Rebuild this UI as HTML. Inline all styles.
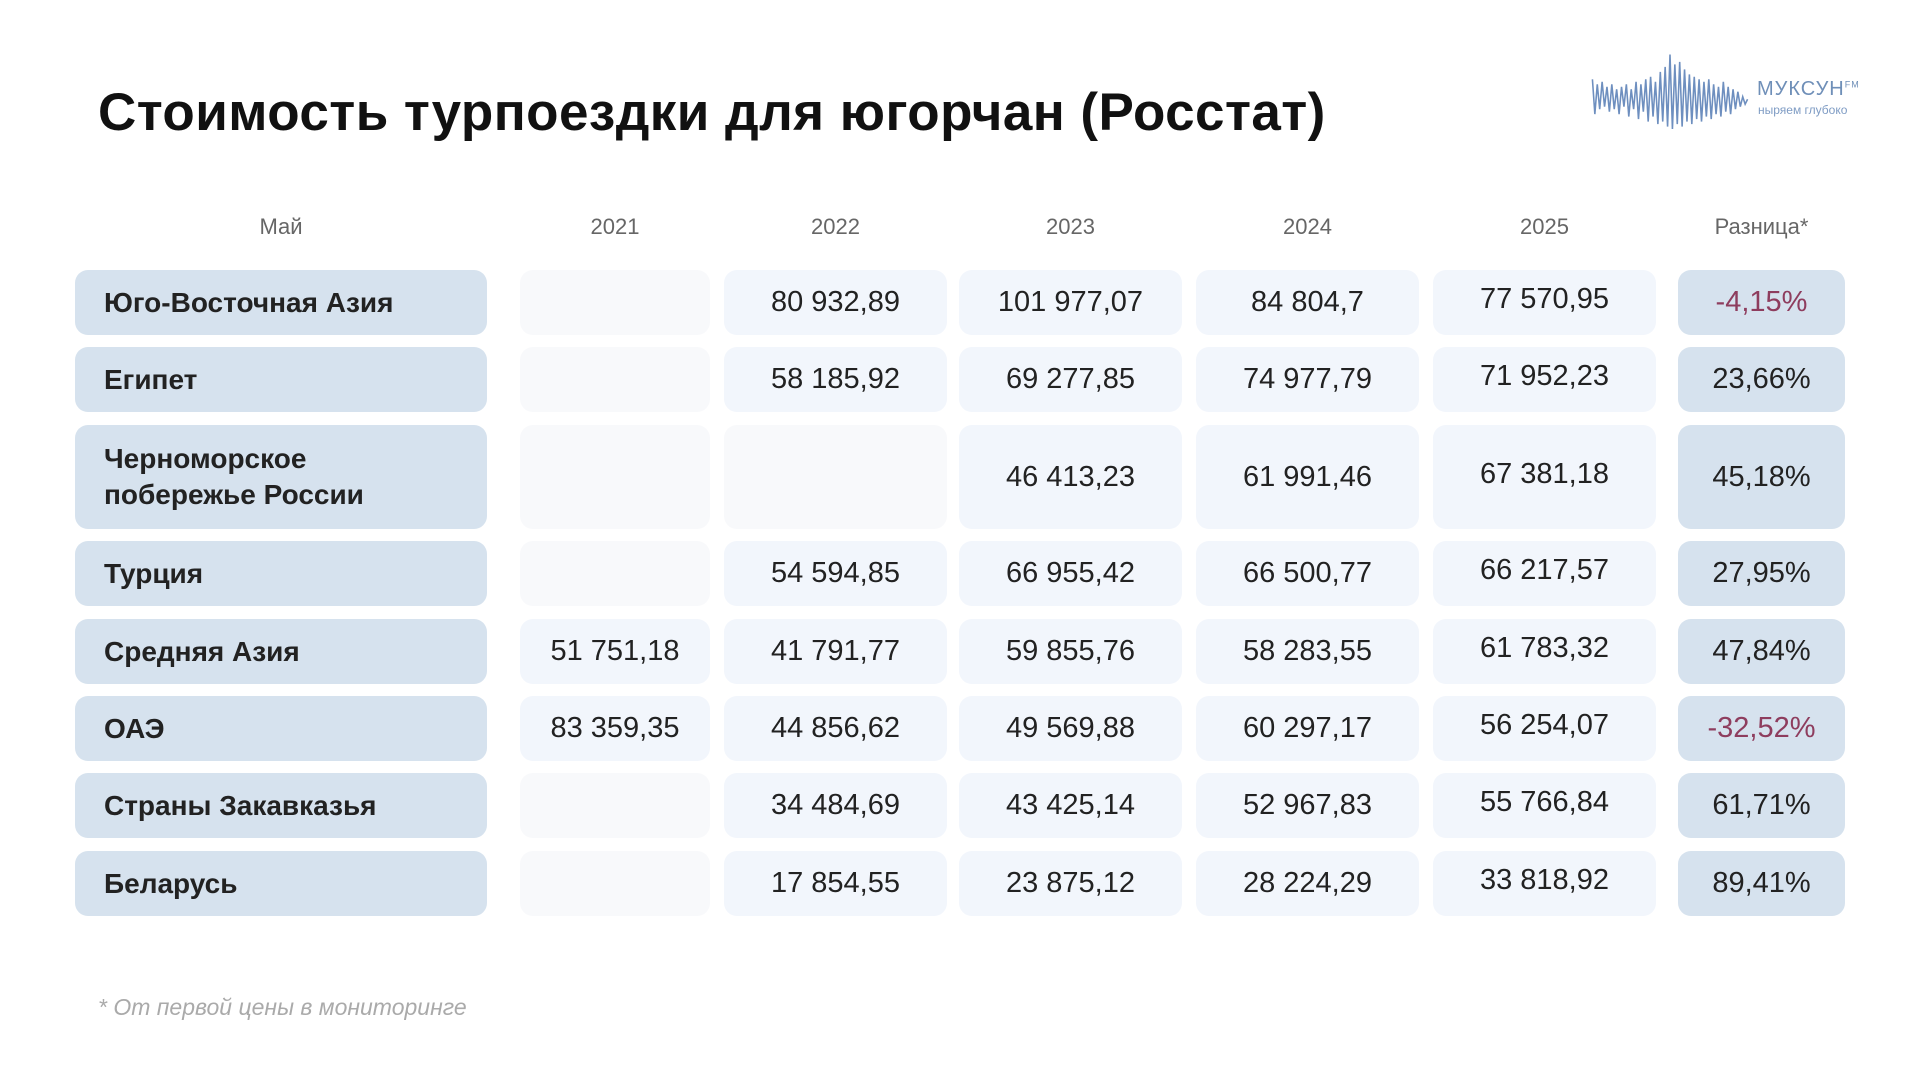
<!DOCTYPE html>
<html><head><meta charset="utf-8"><style>
body{margin:0;width:1920px;height:1080px;background:#fff;font-family:"Liberation Sans","DejaVu Sans",sans-serif;position:relative;overflow:hidden}
.t{position:absolute;left:98px;top:82px;font-size:53px;font-weight:bold;color:#111;letter-spacing:0.45px}
.h{position:absolute;top:214px;font-size:22px;color:#666;text-align:center}
.c{position:absolute;border-radius:13px;display:flex;align-items:center;justify-content:center;font-size:29px;color:#222}
.l{background:#d6e2ee;justify-content:flex-start;padding-left:29px;box-sizing:border-box;font-weight:bold;font-size:28px;line-height:36px;color:#222}
.e{background:#f8f9fb}
.v{background:#f2f6fc}
.d{background:#d6e2ee}
.n{color:#8e3d5e}
.f{position:absolute;left:98px;top:994px;font-size:23px;font-style:italic;color:#aaa}
</style></head><body>
<div class="t">Стоимость турпоездки для югорчан (Росстат)</div>
<svg style="position:absolute;left:1590px;top:52px" width="160" height="82" viewBox="0 0 132 66" preserveAspectRatio="none">
<polyline fill="none" stroke="#6e8fbf" stroke-width="1.3" points="2,22 4,50 6,26 8,46 10,24 12,44 14,28 16,48 18,26 20,46 22,30 24,50 26,28 28,44 30,26 32,52 34,30 36,46 38,24 40,54 42,26 44,48 46,22 48,56 50,20 52,52 54,24 56,58 58,16 60,56 62,12 64,60 66,2 68,62 70,10 72,58 74,8 76,60 78,14 80,56 82,18 84,58 86,20 88,54 90,22 92,56 94,24 96,52 98,22 100,54 102,26 104,50 106,28 108,52 110,24 112,48 114,28 116,50 118,30 120,46 122,32 124,44 126,36 128,42 130,38"/>
</svg>
<div style="position:absolute;left:1757px;top:78px;font-size:20px;color:#6f8fb8;letter-spacing:1px">МУКСУН<sup style="font-size:9px">FM</sup></div>
<div style="position:absolute;left:1758px;top:103px;font-size:12px;color:#7f9cc4">ныряем глубоко</div>

<div class="h" style="left:75px;width:412px">Май</div>
<div class="h" style="left:520px;width:190px">2021</div>
<div class="h" style="left:724px;width:223px">2022</div>
<div class="h" style="left:959px;width:223px">2023</div>
<div class="h" style="left:1196px;width:223px">2024</div>
<div class="h" style="left:1433px;width:223px">2025</div>
<div class="h" style="left:1678px;width:167px">Разница*</div>

<div id="rows"></div>
<script>
var R=[["Юго-Восточная Азия","","80 932,89","101 977,07","84 804,7","77 570,95","-4,15%",270,65],
["Египет","","58 185,92","69 277,85","74 977,79","71 952,23","23,66%",347,65],
["Черноморское<br>побережье России","","","46 413,23","61 991,46","67 381,18","45,18%",425,104],
["Турция","","54 594,85","66 955,42","66 500,77","66 217,57","27,95%",541,65],
["Средняя Азия","51 751,18","41 791,77","59 855,76","58 283,55","61 783,32","47,84%",619,65],
["ОАЭ","83 359,35","44 856,62","49 569,88","60 297,17","56 254,07","-32,52%",696,65],
["Страны Закавказья","","34 484,69","43 425,14","52 967,83","55 766,84","61,71%",773,65],
["Беларусь","","17 854,55","23 875,12","28 224,29","33 818,92","89,41%",851,65]];
var X=[[75,412],[520,190],[724,223],[959,223],[1196,223],[1433,223],[1678,167]];
var h="";
R.forEach(function(r){
 for(var i=0;i<7;i++){
  var cls="c ";
  if(i==0)cls+="l";else if(i==6)cls+="d"+(r[6][0]=="-"?" n":"");else cls+="v";
  if(i>=1&&i<=5&&!r[i])cls="c e";
  h+='<div class="'+cls+'" style="left:'+X[i][0]+'px;width:'+X[i][1]+'px;top:'+r[7]+'px;height:'+r[8]+'px">'+(i==5?'<span style="position:relative;top:-3px">'+r[i]+'</span>':r[i])+'</div>';
 }
});
document.getElementById("rows").innerHTML=h;
</script>
<div class="f">* От первой цены в мониторинге</div>
</body></html>
